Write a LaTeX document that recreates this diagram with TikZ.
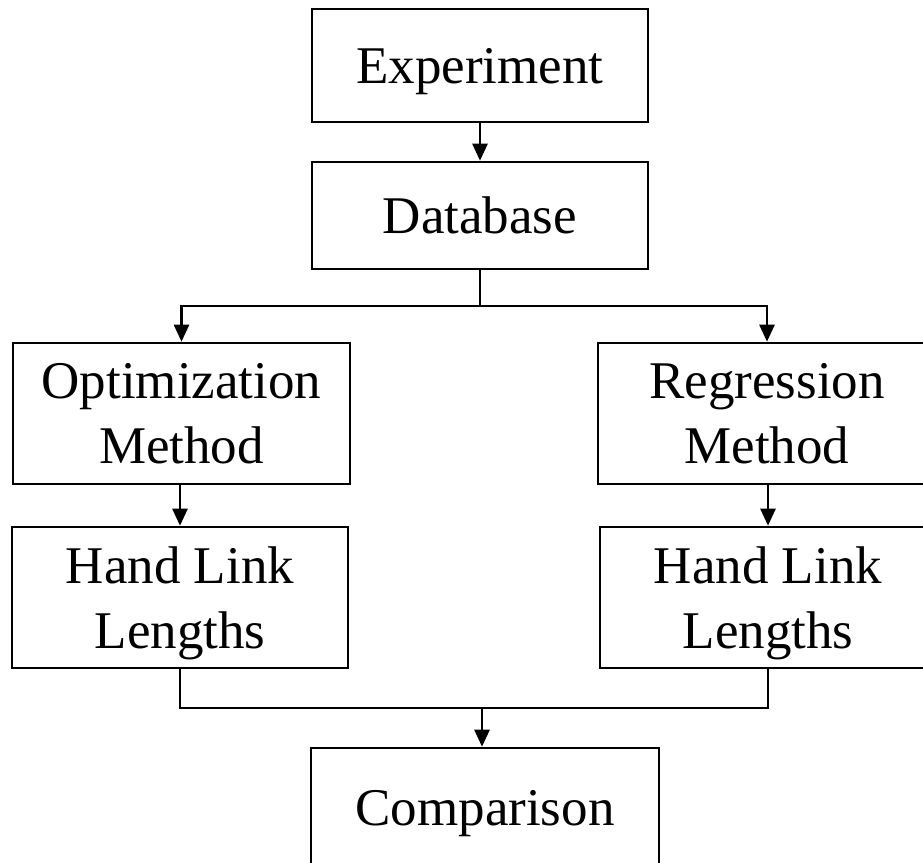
\documentclass[tikz,border=0pt]{standalone}
\usepackage{fontspec}
\setmainfont{Liberation Serif}
\usetikzlibrary{arrows.meta}
\tikzset{
  box/.style={draw=black, line width=2.6pt, inner sep=0pt, align=center,
    text depth=0pt, font=\fontsize{53}{65}\selectfont},
  conn/.style={line width=2.6pt},
  arr/.style={conn, -{Triangle[length=17pt,width=15pt]}}
}
\begin{document}
\begin{tikzpicture}[x=1pt,y=-1pt]
\useasboundingbox (0,0) rectangle (923,862);
\fill[white] (0,0) rectangle (923,862);
\clip (0,0) rectangle (923,862);
\node[box, minimum width=336pt, minimum height=113pt] (exp) at (480,65.5) {Experiment};
\node[box, minimum width=336pt, minimum height=107pt] (db) at (480,215.5) {Database};
\node[box, minimum width=337pt, minimum height=141pt] (opt) at (181.5,413.5) {Optimization\\Method};
\node[box, minimum width=338pt, minimum height=141pt] (reg) at (767,413.5) {Regression\\Method};
\node[box, minimum width=336pt, minimum height=141pt] (hl1) at (180,597.5) {Hand Link\\Lengths};
\node[box, minimum width=336pt, minimum height=141pt] (hl2) at (768,597.5) {Hand Link\\Lengths};
\node[box, minimum width=348pt, minimum height=120pt] (cmp) at (485,808) {Comparison};
\coordinate (split) at (480,306);
\coordinate (join) at (482,708);
\draw[arr] (exp.south) -- (db.north);
\draw[conn] (db.south) -- (split);
\draw[arr] (split) -| (opt.north);
\draw[arr] (split) -| (reg.north);
\draw[arr] (opt.south -| hl1.north) -- (hl1.north);
\draw[arr] (reg.south -| hl2.north) -- (hl2.north);
\draw[conn] (hl1.south) |- (join) -| (hl2.south);
\draw[arr] (join) -- (join |- cmp.north);
\end{tikzpicture}
\end{document}
